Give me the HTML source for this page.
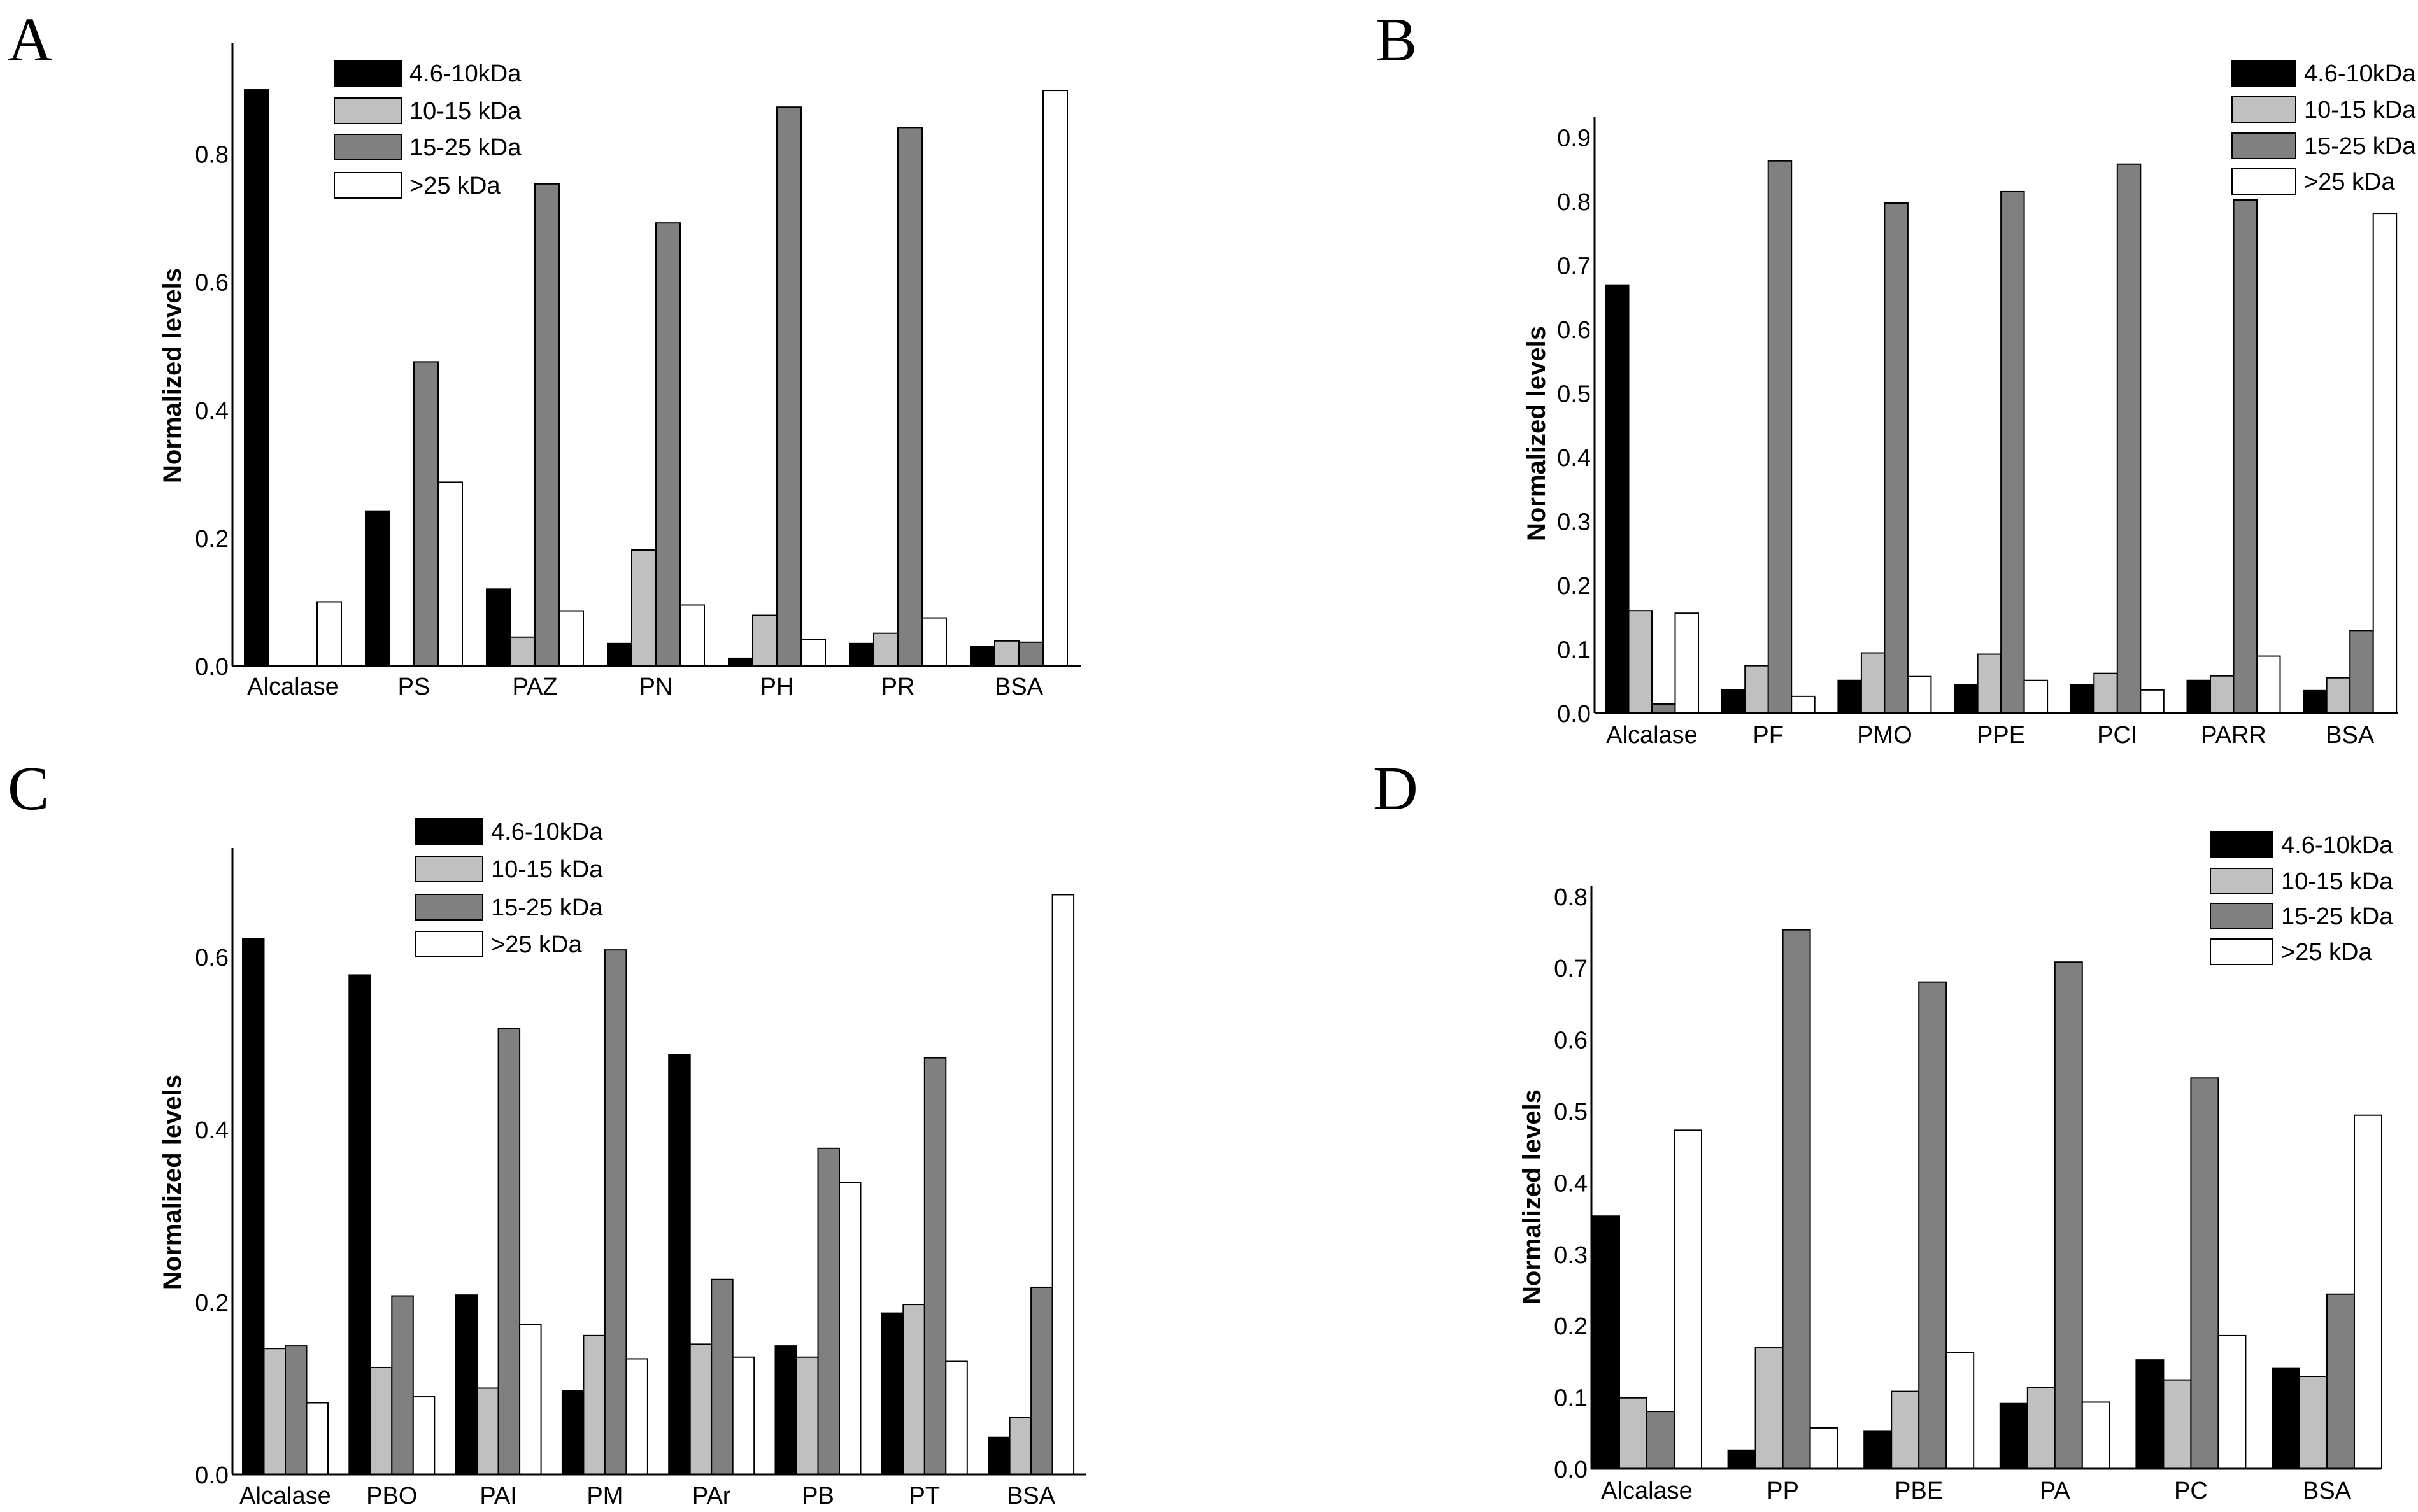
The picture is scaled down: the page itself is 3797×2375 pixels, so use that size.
<!DOCTYPE html>
<html><head><meta charset="utf-8"><style>
html,body{margin:0;padding:0;background:#fff;}
svg{display:block;font-family:"Liberation Sans",Arial,sans-serif;}
</style></head><body>
<svg id="fig" width="3797" height="2375" viewBox="0 0 3797 2375" xmlns="http://www.w3.org/2000/svg"></svg>
<script>
const seriesNames = ["4.6-10kDa","10-15 kDa","15-25 kDa",">25 kDa"];
const seriesFill = ["#000000","#c0c0c0","#808080","#ffffff"];

const catsA = ["Alcalase","PS","PAZ","PN","PH","PR","BSA"];
const a1 = [0.90,0.242,0.12,0.035,0.012,0.035,0.030];
const a2 = [0,0,0.045,0.181,0.079,0.051,0.039];
const a3 = [0,0.475,0.753,0.692,0.873,0.841,0.037];
const a4 = [0.10,0.287,0.086,0.095,0.041,0.075,0.899];
const ticksA = [0,0.2,0.4,0.6,0.8];

const catsB = ["Alcalase","PF","PMO","PPE","PCI","PARR","BSA"];
const b1 = [0.669,0.036,0.051,0.044,0.044,0.051,0.035];
const b2 = [0.160,0.074,0.094,0.092,0.062,0.058,0.055];
const b3 = [0.014,0.863,0.797,0.815,0.858,0.802,0.129];
const b4 = [0.156,0.026,0.057,0.051,0.036,0.089,0.781];
const ticksB = [0,0.1,0.2,0.3,0.4,0.5,0.6,0.7,0.8,0.9];

const catsC = ["Alcalase","PBO","PAI","PM","PAr","PB","PT","BSA"];
const c1 = [0.621,0.579,0.208,0.097,0.487,0.149,0.187,0.043];
const c2 = [0.146,0.124,0.100,0.161,0.151,0.136,0.197,0.066];
const c3 = [0.149,0.207,0.517,0.608,0.226,0.378,0.483,0.217];
const c4 = [0.083,0.090,0.174,0.134,0.136,0.338,0.131,0.672];
const ticksC = [0,0.2,0.4,0.6];

const catsD = ["Alcalase","PP","PBE","PA","PC","BSA"];
const d1 = [0.353,0.026,0.053,0.091,0.152,0.140];
const d2 = [0.099,0.169,0.108,0.113,0.124,0.129];
const d3 = [0.080,0.753,0.680,0.708,0.546,0.244];
const d4 = [0.473,0.057,0.162,0.093,0.186,0.494];
const ticksD = [0,0.1,0.2,0.3,0.4,0.5,0.6,0.7,0.8];

const NS = "http://www.w3.org/2000/svg";
const svg = document.getElementById("fig");
function mk(tag, attrs, parent){
  const e = document.createElementNS(NS, tag);
  for (const k in attrs) e.setAttribute(k, attrs[k]);
  (parent||svg).appendChild(e);
  return e;
}

function panel(cfg){
  const g = mk("g", {});
  
  
  const yScale = v => cfg.base - v * cfg.unit;
  const xScale = (i, s) => cfg.start + i * cfg.spacing + s * cfg.barW;
  // letter
  const L = mk("text", {x: cfg.letterX, y: cfg.letterY, "font-family": "Liberation Serif, serif", "font-size": 98}, g);
  L.textContent = cfg.letter;
  
  
  // bars
  cfg.series.forEach((arr, s) => {
    arr.forEach((v, i) => {
      const y = yScale(v);
      const r = mk("rect", {x: xScale(i, s), y: y, width: cfg.barW, height: Math.max(0, cfg.base - y), fill: seriesFill[s], stroke: "#000", "stroke-width": 2}, g);
      
      
    });
  });
  // axes
  const ya = mk("line", {x1: cfg.axisX, y1: cfg.top, x2: cfg.axisX, y2: cfg.base, stroke: "#000", "stroke-width": 3}, g);
  
  
  const xa = mk("line", {x1: cfg.axisX, y1: cfg.base, x2: cfg.axisEnd, y2: cfg.base, stroke: "#000", "stroke-width": 3}, g);
  
  
  // ticks
  cfg.ticks.forEach(t => {
    const tx = mk("text", {x: cfg.axisX - 6, y: yScale(t) + 14, "font-size": 38, "text-anchor": "end"}, g);
    tx.textContent = t.toFixed(1);
    
    
  });
  // categories
  cfg.cats.forEach((c, i) => {
    const tx = mk("text", {x: xScale(i, 2), y: cfg.labelY + 14, "font-size": 38, "text-anchor": "middle"}, g);
    tx.textContent = c;
    
    
  });
  // y title
  const yt = mk("text", {x: 0, y: 0, "font-size": 40, "font-weight": "bold", "text-anchor": "middle", transform: "translate(" + (cfg.ylabX + 14) + "," + cfg.ylabY + ") rotate(-90)"}, g);
  yt.textContent = "Normalized levels";
  
  
  // legend
  seriesNames.forEach((n, s) => {
    const ty = cfg.legTops[s];
    const r = mk("rect", {x: cfg.legX, y: ty, width: cfg.legW, height: 40, fill: seriesFill[s], stroke: "#000", "stroke-width": 2}, g);
    
    
    const tx = mk("text", {x: cfg.legX + cfg.legW + 13, y: ty + 33, "font-size": 38}, g);
    tx.textContent = n;
    
    
  });
}

panel({letter:"A", letterX:12, letterY:95, cats:catsA, series:[a1,a2,a3,a4], ticks:ticksA,
  axisX:365, axisEnd:1697, top:68, base:1046, unit:1005.5, start:384, spacing:190, barW:38,
  labelY:1077, ylabX:270, ylabY:590, legX:525, legW:105, legTops:[95,154,211,271]});
panel({letter:"B", letterX:2160, letterY:95, cats:catsB, series:[b1,b2,b3,b4], ticks:ticksB,
  axisX:2504, axisEnd:3766, top:183, base:1120, unit:1005, start:2521, spacing:182.7, barW:36.5,
  labelY:1153, ylabX:2412, ylabY:681, legX:3505, legW:100, legTops:[95,152,209,265]});
panel({letter:"C", letterX:12, letterY:1271, cats:catsC, series:[c1,c2,c3,c4], ticks:ticksC,
  axisX:365, axisEnd:1705, top:1332, base:2316, unit:1355, start:381, spacing:167.3, barW:33.5,
  labelY:2348, ylabX:270, ylabY:1857, legX:653, legW:105, legTops:[1286,1345,1405,1463]});
panel({letter:"D", letterX:2156, letterY:1271, cats:catsD, series:[d1,d2,d3,d4], ticks:ticksD,
  axisX:2499, axisEnd:3739, top:1392, base:2307, unit:1124, start:2500, spacing:213.6, barW:43,
  labelY:2340, ylabX:2405, ylabY:1880, legX:3471, legW:98, legTops:[1307,1364,1419,1475]});
</script>
</body></html>
